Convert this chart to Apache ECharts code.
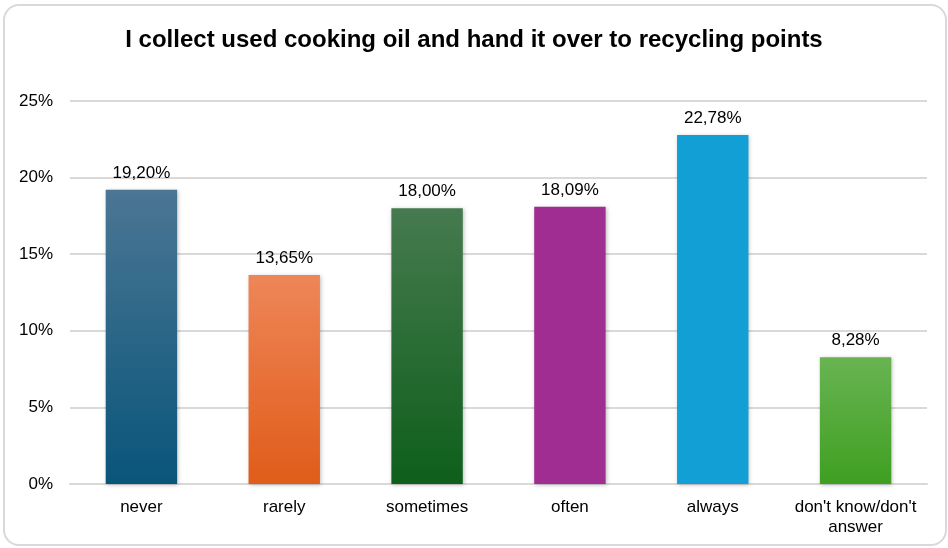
<!DOCTYPE html>
<html>
<head>
<meta charset="utf-8">
<script src="https://cdn.jsdelivr.net/npm/echarts@6/dist/echarts.min.js"></script>
<style>
html,body{margin:0;padding:0;background:#fff;}
#chart{width:948px;height:548px;}
</style>
</head>
<body>
<div id="chart"></div>
<script>
var categories = ["never", "rarely", "sometimes", "often", "always", "don't know/don't\nanswer"];
var values = [19.20, 13.65, 18.00, 18.09, 22.78, 8.28];
var yTicks = [0, 5, 10, 15, 20, 25];
var titleText = "I collect used cooking oil and hand it over to recycling points";
var barColors = [
  ["#4b7694", "#09557a"],
  ["#ee8658", "#e05c19"],
  ["#467a4f", "#0e5f1b"],
  ["#a02d91", "#a02d91"],
  ["#119fd6", "#119fd6"],
  ["#68b452", "#3f9f21"]
];

var chart = echarts.init(document.getElementById('chart'), null, {renderer: 'canvas'});
var font = "'Liberation Sans', Arial, sans-serif";
var option = {
  backgroundColor: '#ffffff',
  animation: false,
  graphic: [{
    type: 'rect',
    shape: {x: 4, y: 5, width: 942, height: 540, r: 15},
    style: {fill: 'none', stroke: '#d9d9d9', lineWidth: 2},
    silent: true,
    z: -1
  }],
  title: {
    text: titleText,
    left: 'center',
    top: 23,
    textStyle: {fontFamily: font, fontWeight: 'bold', fontSize: 24, color: '#000'}
  },
  grid: {left: 70, right: 21, top: 101, bottom: 64},
  xAxis: {
    type: 'category',
    data: categories,
    axisLine: {show: true, lineStyle: {color: '#d9d9d9', width: 2}},
    axisTick: {show: false},
    axisLabel: {fontFamily: font, fontSize: 17, color: '#000', margin: 13, lineHeight: 20, interval: 0}
  },
  yAxis: {
    type: 'value',
    min: yTicks[0],
    max: yTicks[yTicks.length - 1],
    interval: 5,
    axisLine: {show: false},
    axisTick: {show: false},
    splitLine: {lineStyle: {color: '#d9d9d9', width: 2}},
    axisLabel: {fontFamily: font, fontSize: 17, color: '#000', margin: 17, formatter: '{value}%'}
  },
  series: [{
    type: 'bar',
    barWidth: '50%',
    data: values.map(function (v, i) {
      return {
        value: v,
        itemStyle: {
          color: new echarts.graphic.LinearGradient(0, 0, 0, 1, [
            {offset: 0, color: barColors[i][0]},
            {offset: 1, color: barColors[i][1]}
          ]),
          shadowColor: 'rgba(0,0,0,0.25)',
          shadowBlur: 4,
          shadowOffsetX: 1,
          shadowOffsetY: 1
        }
      };
    }),
    label: {
      show: true,
      position: 'top',
      distance: 8,
      fontFamily: font,
      fontSize: 17,
      color: '#000',
      formatter: function (p) { return p.value.toFixed(2).replace('.', ',') + '%'; }
    }
  }]
};
chart.setOption(option);
</script>
</body>
</html>
